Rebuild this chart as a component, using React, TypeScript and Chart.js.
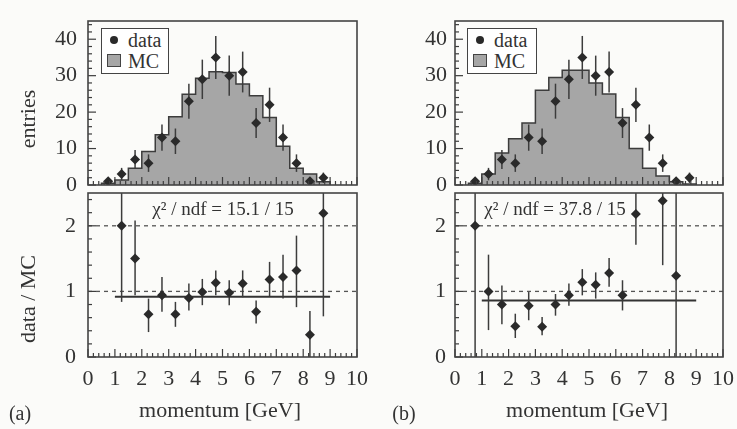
import React, { useEffect, useRef } from "react";
import { Chart, registerables } from "chart.js";

Chart.register(...registerables);

// ---------- data ----------
const binCenters = [0.75, 1.25, 1.75, 2.25, 2.75, 3.25, 3.75, 4.25, 4.75, 5.25, 5.75, 6.25, 6.75, 7.25, 7.75, 8.25, 8.75];
const binLowEdges = [0.5, 1.0, 1.5, 2.0, 2.5, 3.0, 3.5, 4.0, 4.5, 5.0, 5.5, 6.0, 6.5, 7.0, 7.5, 8.0, 8.5];
const histUpperEdge = 9.0;

const dataCounts = [1, 3, 7, 6, 13, 12, 23, 29, 35, 30, 31, 17, 22, 13, 6, 1, 2];
const dataErrors = [1, 1.7, 2.6, 2.4, 3.6, 3.5, 4.8, 5.4, 5.9, 5.5, 5.6, 4.1, 4.7, 3.6, 2.4, 1, 1.4];

const mcA = [0.5, 1.4, 4.6, 9.2, 13.8, 18.7, 24.9, 29.3, 31.1, 30.9, 27.7, 24.5, 18.5, 10.6, 4.6, 3.0, 0.9];
const mcB = [0.5, 3.0, 8.8, 12.7, 17.0, 26.0, 29.5, 31.5, 31.5, 28.0, 25.0, 18.5, 10.0, 4.6, 2.5, 0.9, 0.3];

const ratioA = [null, 2.0, 1.5, 0.65, 0.94, 0.65, 0.9, 0.99, 1.13, 0.98, 1.12, 0.69, 1.18, 1.22, 1.32, 0.34, 2.19];
const ratioALow = [null, 0.84, 0.94, 0.38, 0.69, 0.46, 0.71, 0.79, 0.94, 0.79, 0.91, 0.51, 0.93, 0.89, 0.76, 0.0, 0.62];
const ratioAHigh = [null, 3.5, 2.08, 0.89, 1.22, 0.84, 1.12, 1.19, 1.32, 1.17, 1.32, 0.86, 1.45, 1.56, 1.85, 0.7, 3.5];

const ratioB = [2.0, 1.0, 0.8, 0.47, 0.78, 0.46, 0.8, 0.94, 1.14, 1.1, 1.28, 0.94, 2.18, null, 2.38, 1.24, null];
const ratioBLow = [0.0, 0.41, 0.5, 0.29, 0.56, 0.33, 0.63, 0.78, 0.94, 0.89, 1.07, 0.71, 1.71, null, 1.4, 0.0, null];
const ratioBHigh = [3.5, 1.56, 1.09, 0.66, 0.99, 0.61, 0.96, 1.12, 1.34, 1.29, 1.51, 1.17, 2.6, null, 3.5, 3.5, null];

const fitLevelA = 0.92;
const fitLevelB = 0.86;
const fitRange = [1.0, 9.0];

const momentumTicks = [0, 1, 2, 3, 4, 5, 6, 7, 8, 9, 10];
const entriesTicks = [0, 10, 20, 30, 40];
const ratioTicks = [0, 1, 2];
const ratioRefLines = [1, 2];

const chi2A = "15.1 / 15";
const chi2B = "37.8 / 15";

// ---------- styling ----------
const FONT = "'Liberation Serif', 'Times New Roman', serif";
const INK = "#333333";
const LINE = "#3c3c3c";
const MC_FILL = "#a6a6a6";
const BG = "#fbfbf9";

const decorPlugin: any = {
  id: "decor",
  beforeDatasetsDraw(chart: any, _args: any, opts: any) {
    const { ctx, chartArea: a, scales } = chart;
    const lines: number[] = opts.refLines || [];
    ctx.save();
    ctx.strokeStyle = "#555";
    ctx.lineWidth = 1.3;
    ctx.setLineDash([4, 4]);
    for (const v of lines) {
      const y = scales.y.getPixelForValue(v);
      ctx.beginPath();
      ctx.moveTo(a.left, y);
      ctx.lineTo(a.right, y);
      ctx.stroke();
    }
    ctx.restore();
  },
  beforeDatasetDraw(chart: any, args: any) {
    const ds = chart.data.datasets[args.index];
    if (!ds.errLow) return;
    const { ctx, chartArea: a, scales } = chart;
    ctx.save();
    ctx.beginPath();
    ctx.rect(a.left, a.top, a.right - a.left, a.bottom - a.top);
    ctx.clip();
    ctx.strokeStyle = LINE;
    ctx.lineWidth = 1.5;
    ds.data.forEach((p: any, i: number) => {
      if (!p || p.y == null) return;
      const lo = ds.errLow[i];
      const hi = ds.errHigh[i];
      if (lo == null || hi == null) return;
      const x = scales.x.getPixelForValue(p.x);
      ctx.beginPath();
      ctx.moveTo(x, scales.y.getPixelForValue(lo));
      ctx.lineTo(x, scales.y.getPixelForValue(hi));
      ctx.stroke();
    });
    ctx.restore();
  },
  afterDatasetsDraw(chart: any, _args: any, opts: any) {
    const { ctx, chartArea: a, scales } = chart;
    ctx.save();
    ctx.strokeStyle = LINE;
    ctx.lineWidth = 1.2;
    const xs = scales.x;
    for (let k = 0; ; k++) {
      const v = xs.min + k * opts.xMinor;
      if (v > xs.max + 1e-9) break;
      const r = v / opts.xMajor;
      const major = Math.abs(r - Math.round(r)) < 1e-6;
      const len = major ? 8 : 4;
      const x = xs.getPixelForValue(v);
      ctx.beginPath();
      ctx.moveTo(x, a.bottom);
      ctx.lineTo(x, a.bottom - len);
      ctx.stroke();
    }
    const ys = scales.y;
    for (let k = 0; ; k++) {
      const v = ys.min + k * opts.yMinor;
      if (v > ys.max + 1e-9) break;
      const r = v / opts.yMajor;
      const major = Math.abs(r - Math.round(r)) < 1e-6;
      const len = major ? 8 : 4;
      const y = ys.getPixelForValue(v);
      ctx.beginPath();
      ctx.moveTo(a.left, y);
      ctx.lineTo(a.left + len, y);
      ctx.stroke();
    }
    ctx.lineWidth = 1.6;
    ctx.strokeStyle = "#444";
    ctx.strokeRect(a.left, a.top, a.right - a.left, a.bottom - a.top);
    ctx.restore();
  },
};

const tickFont = { family: FONT, size: 22 };

const noPad = (s: any) => {
  s.paddingTop = 0;
  s.paddingBottom = 0;
  s.paddingLeft = 0;
  s.paddingRight = 0;
};

function histConfig(mc: number[], yWidth: number, padRight: number, tickPad: number) {
  const histPts = [
    { x: binLowEdges[0], y: 0 },
    ...binLowEdges.map((x, i) => ({ x, y: mc[i] })),
    { x: histUpperEdge, y: 0 },
  ];
  const pts = binCenters.map((x, i) => ({ x, y: dataCounts[i] }));
  return {
    type: "line",
    data: {
      datasets: [
        {
          label: "data",
          data: pts,
          showLine: false,
          pointStyle: "rectRot",
          pointRadius: 5,
          pointBackgroundColor: "#2a2a2a",
          pointBorderColor: "#2a2a2a",
          pointBorderWidth: 0,
          errLow: dataCounts.map((c, i) => c - dataErrors[i]),
          errHigh: dataCounts.map((c, i) => c + dataErrors[i]),
        },
        {
          label: "MC",
          data: histPts,
          stepped: "before",
          fill: "origin",
          backgroundColor: MC_FILL,
          borderColor: LINE,
          borderWidth: 1.5,
          pointRadius: 0,
        },
      ],
    },
    options: {
      responsive: false,
      animation: false,
      devicePixelRatio: 1,
      events: [],
      layout: { autoPadding: false, padding: { top: 21, right: padRight, left: 0, bottom: 0 } },
      plugins: {
        legend: { display: false },
        tooltip: { enabled: false },
        decor: { xMinor: 0.2, xMajor: 1, yMinor: 2, yMajor: 10, refLines: [] },
      },
      scales: {
        x: {
          type: "linear",
          min: 0,
          max: 10,
          grid: { display: false, drawTicks: false },
          border: { display: false },
          ticks: { display: false },
          afterFit: (s: any) => { s.height = 15; noPad(s); },
        },
        y: {
          type: "linear",
          min: 0,
          max: 45,
          grid: { display: false, drawTicks: false },
          border: { display: false },
          ticks: { font: tickFont, color: INK, padding: tickPad },
          afterBuildTicks: (s: any) => { s.ticks = entriesTicks.map((v) => ({ value: v })); },
          afterFit: (s: any) => { s.width = yWidth; noPad(s); },
        },
      },
    },
    plugins: [decorPlugin],
  };
}

function ratioConfig(ratio: (number | null)[], lo: (number | null)[], hi: (number | null)[], fit: number, yWidth: number, padRight: number, tickPad: number) {
  const pts = binCenters.map((x, i) => ({ x, y: ratio[i] }));
  return {
    type: "line",
    data: {
      datasets: [
        {
          label: "ratio",
          data: pts,
          showLine: false,
          pointStyle: "rectRot",
          pointRadius: 5,
          pointBackgroundColor: "#2a2a2a",
          pointBorderColor: "#2a2a2a",
          pointBorderWidth: 0,
          errLow: lo,
          errHigh: hi,
        },
        {
          label: "fit",
          data: [
            { x: fitRange[0], y: fit },
            { x: fitRange[1], y: fit },
          ],
          borderColor: "#333",
          borderWidth: 2,
          pointRadius: 0,
          fill: false,
        },
      ],
    },
    options: {
      responsive: false,
      animation: false,
      devicePixelRatio: 1,
      events: [],
      layout: { autoPadding: false, padding: { top: 4, right: padRight, left: 0, bottom: 0 } },
      plugins: {
        legend: { display: false },
        tooltip: { enabled: false },
        decor: { xMinor: 0.2, xMajor: 1, yMinor: 0.2, yMajor: 1, refLines: ratioRefLines },
      },
      scales: {
        x: {
          type: "linear",
          min: 0,
          max: 10,
          grid: { display: false, drawTicks: false },
          border: { display: false },
          ticks: { font: tickFont, color: INK, padding: 9, autoSkip: false, maxRotation: 0 },
          afterBuildTicks: (s: any) => { s.ticks = momentumTicks.map((v) => ({ value: v })); },
          afterFit: (s: any) => { s.height = 32; noPad(s); },
        },
        y: {
          type: "linear",
          min: 0,
          max: 2.5,
          grid: { display: false, drawTicks: false },
          border: { display: false },
          ticks: { font: tickFont, color: INK, padding: tickPad },
          afterBuildTicks: (s: any) => { s.ticks = ratioTicks.map((v) => ({ value: v })); },
          afterFit: (s: any) => { s.width = yWidth; noPad(s); },
        },
      },
    },
    plugins: [decorPlugin],
  };
}

function ChartCanvas({ make, left, top, width, height }: any) {
  const ref = useRef<HTMLCanvasElement>(null);
  useEffect(() => {
    const chart = new Chart(ref.current as HTMLCanvasElement, make() as any);
    return () => chart.destroy();
  }, []);
  return (
    <canvas
      ref={ref}
      width={width}
      height={height}
      style={{ position: "absolute", left, top, width, height }}
    />
  );
}

function Txt({ x, y, size, rotate, children }: any) {
  return (
    <div
      style={{
        position: "absolute",
        left: x,
        top: y,
        transform: `translate(-50%, -50%)${rotate ? " rotate(-90deg)" : ""}`,
        fontFamily: FONT,
        fontSize: size,
        color: INK,
        whiteSpace: "nowrap",
        lineHeight: 1,
      }}
    >
      {children}
    </div>
  );
}

function Legend({ left, top, width }: any) {
  return (
    <div
      style={{
        position: "absolute",
        left,
        top,
        width,
        height: 46,
        boxSizing: "border-box",
        border: "1.5px solid #444",
        background: "#fff",
        fontFamily: FONT,
        fontSize: 20,
        color: INK,
      }}
    >
      <div style={{ position: "absolute", left: 8, top: 7, width: 8, height: 8, borderRadius: 4, background: "#2a2a2a" }} />
      <div style={{ position: "absolute", left: 26, top: 1, lineHeight: 1 }}>data</div>
      <div style={{ position: "absolute", left: 5, top: 25, width: 14, height: 13, boxSizing: "border-box", border: "1.5px solid #444", background: MC_FILL }} />
      <div style={{ position: "absolute", left: 26, top: 22, lineHeight: 1 }}>MC</div>
    </div>
  );
}

export default function App() {
  return (
    <div style={{ position: "absolute", left: 0, top: 0, width: 737, height: 429, background: BG, overflow: "hidden" }}>
      <ChartCanvas make={() => histConfig(mcA, 88, 13, 11)} left={0} top={0} width={370} height={200} />
      <ChartCanvas make={() => ratioConfig(ratioA, ratioALow, ratioAHigh, fitLevelA, 88, 13, 12)} left={0} top={189} width={370} height={200} />
      <ChartCanvas make={() => histConfig(mcB, 85, 14, 8)} left={370} top={0} width={367} height={200} />
      <ChartCanvas make={() => ratioConfig(ratioB, ratioBLow, ratioBHigh, fitLevelB, 85, 14, 9)} left={370} top={189} width={367} height={200} />

      <Legend left={101} top={28} width={68} />
      <Legend left={467} top={28} width={70} />

      <Txt x={28} y={119} size={22} rotate>entries</Txt>
      <Txt x={28} y={299} size={22} rotate>data / MC</Txt>

      <Txt x={223} y={208} size={19}>χ² / ndf = {chi2A}</Txt>
      <Txt x={555} y={208} size={19}>χ² / ndf = {chi2B}</Txt>

      <Txt x={220} y={410} size={22}>momentum [GeV]</Txt>
      <Txt x={587} y={410} size={22}>momentum [GeV]</Txt>

      <Txt x={20} y={413} size={20}>(a)</Txt>
      <Txt x={404} y={413} size={20}>(b)</Txt>
    </div>
  );
}
